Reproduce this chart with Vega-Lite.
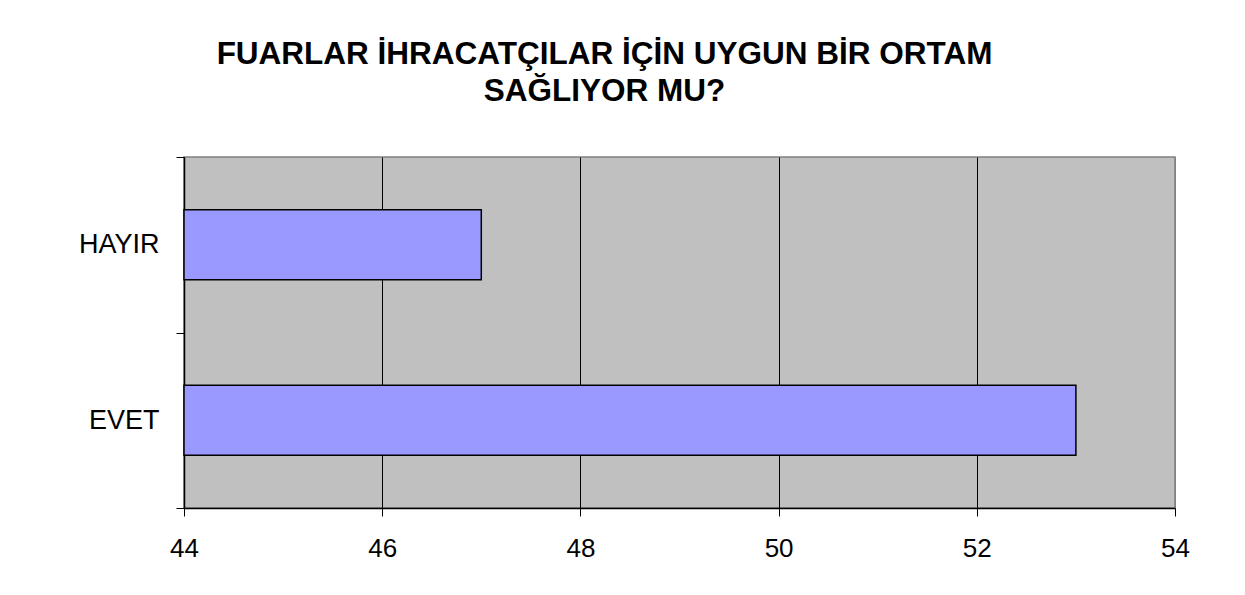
{
  "$schema": "https://vega.github.io/schema/vega-lite/v6.json",
  "autosize": {"type": "none"},
  "width": 991,
  "height": 351,
  "padding": {"left": 184, "top": 157, "right": 70, "bottom": 87},
  "background": "white",
  "title": {
    "text": ["FUARLAR İHRACATÇILAR İÇİN UYGUN BİR ORTAM", "SAĞLIYOR MU?"],
    "font": "Liberation Sans",
    "fontSize": 31.5,
    "fontWeight": "bold",
    "color": "black",
    "lineHeight": 37,
    "anchor": "middle",
    "frame": "group",
    "dx": -75,
    "offset": 36
  },
  "config": {
    "view": {"fill": "#C0C0C0", "stroke": "#808080", "strokeWidth": 1.5},
    "font": "Liberation Sans"
  },
  "data": {
    "values": [
      {"answer": "HAYIR", "value": 47},
      {"answer": "EVET", "value": 53}
    ]
  },
  "mark": {"type": "bar", "fill": "#9999FF", "stroke": "black", "strokeWidth": 1.5, "height": {"band": 0.4}},
  "encoding": {
    "y": {
      "field": "answer",
      "type": "nominal",
      "sort": ["HAYIR", "EVET"],
      "scale": {"paddingInner": 0, "paddingOuter": 0},
      "axis": {
        "title": null,
        "labelFont": "Liberation Sans",
        "labelFontSize": 27,
        "labelColor": "black",
        "labelPadding": 17,
        "tickSize": 8,
        "tickColor": "black",
        "tickBand": "extent",
        "domainColor": "black",
        "domainWidth": 1.5,
        "grid": false
      }
    },
    "x": {
      "field": "value",
      "type": "quantitative",
      "scale": {"domain": [44, 54], "zero": false, "nice": false},
      "axis": {
        "title": null,
        "values": [44, 46, 48, 50, 52, 54],
        "labelFont": "Liberation Sans",
        "labelFontSize": 26,
        "labelColor": "black",
        "labelFlush": false,
        "labelPadding": 19,
        "tickSize": 8,
        "tickColor": "black",
        "domainColor": "black",
        "domainWidth": 1.5,
        "grid": true,
        "gridColor": {"condition": {"test": "datum.value == 54", "value": "#808080"}, "value": "black"},
        "gridWidth": 1
      }
    },
    "x2": {"datum": 44}
  }
}
